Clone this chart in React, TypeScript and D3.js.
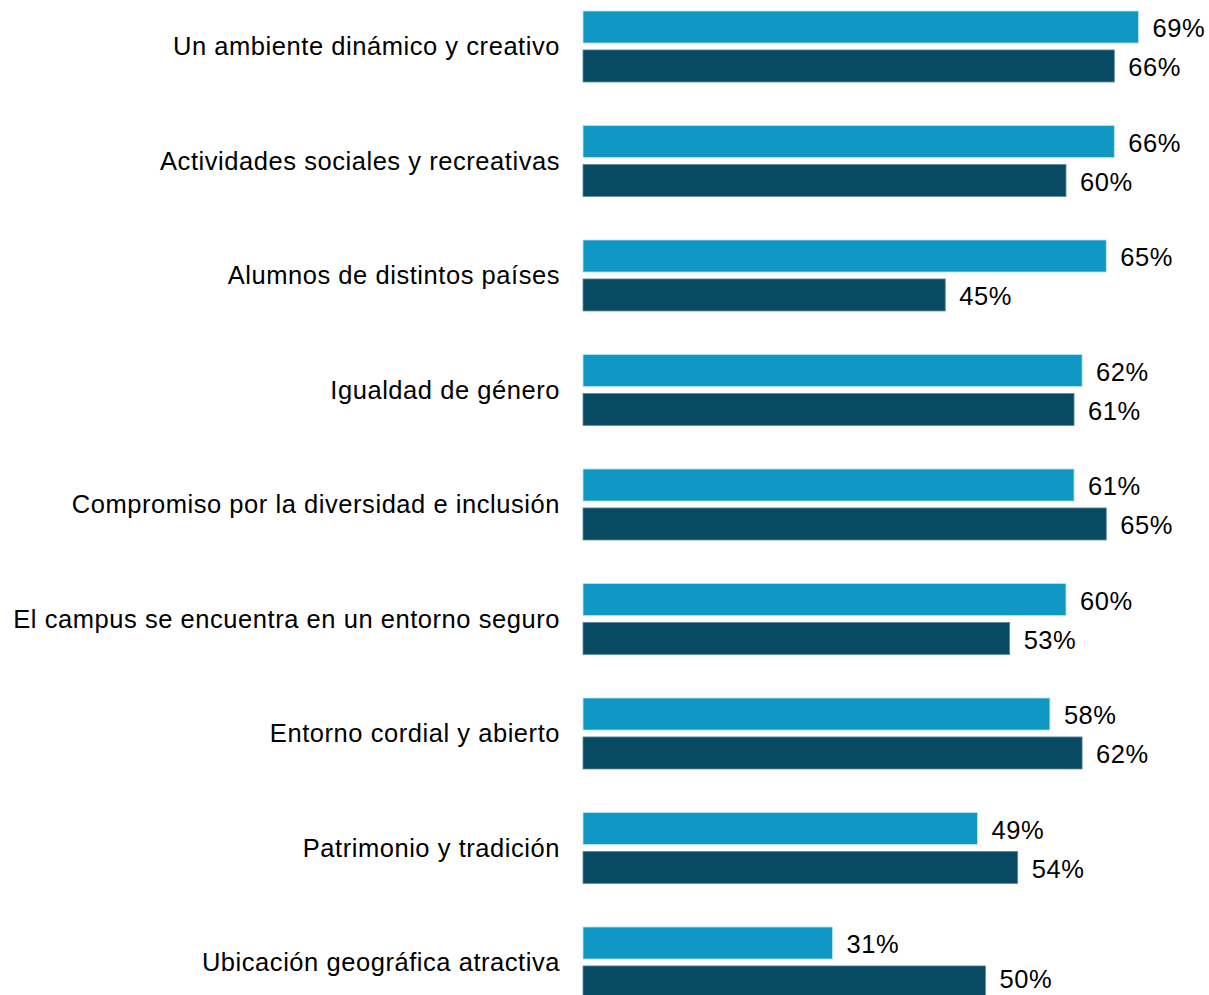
import React from "react";
import * as d3 from "d3";

const categories = [
  "Un ambiente dinámico y creativo",
  "Actividades sociales y recreativas",
  "Alumnos de distintos países",
  "Igualdad de género",
  "Compromiso por la diversidad e inclusión",
  "El campus se encuentra en un entorno seguro",
  "Entorno cordial y abierto",
  "Patrimonio y tradición",
  "Ubicación geográfica atractiva",
];
const seriesA = [69, 66, 65, 62, 61, 60, 58, 49, 31];
const seriesB = [66, 60, 45, 61, 65, 53, 62, 54, 50];
const seriesKeys = ["A", "B"];
const colors = ["#1098C4", "#084A62"];

const W = 1209;
const H = 995;

export default function App() {
  const y = d3
    .scaleBand<string>()
    .domain(categories)
    .range([11, 11 + 114.5 * (categories.length - 0.38)])
    .paddingInner(0.38)
    .paddingOuter(0);
  const yi = d3
    .scaleBand<string>()
    .domain(seriesKeys)
    .range([0, y.bandwidth()])
    .paddingInner(0.177)
    .paddingOuter(0);
  const x = d3.scaleLinear().domain([0, 100]).range([583, 583 + 805]);
  const series = [seriesA, seriesB];
  const font = "'Liberation Sans', Arial, sans-serif";
  const fs = 25.5;
  const ls = 0.55;

  return (
    <svg
      width={W}
      height={H}
      style={{ position: "absolute", left: 0, top: 0, display: "block", background: "#fff" }}
    >
      {categories.map((c, i) => {
        const gy = y(c)!;
        return (
          <g key={c}>
            <text
              x={560}
              y={gy + y.bandwidth() / 2}
              dy="0.35em"
              textAnchor="end"
              fontFamily={font}
              fontSize={fs}
              letterSpacing={ls}
              fill="#000"
            >
              {c}
            </text>
            {seriesKeys.map((k, si) => {
              const v = series[si][i];
              const by = gy + yi(k)!;
              return (
                <g key={k}>
                  <rect
                    x={x(0)}
                    y={by}
                    width={x(v) - x(0)}
                    height={yi.bandwidth()}
                    fill={colors[si]}
                    stroke={si === 0 ? "#bfe4f0" : "#5d8da0"}
                    strokeWidth={0.8}
                  />
                  <text
                    x={x(v) + 14}
                    y={Math.min(by + yi.bandwidth() / 2 + 1.5, H - 16)}
                    dy="0.35em"
                    fontFamily={font}
                    fontSize={fs}
                    letterSpacing={ls}
                    fill="#000"
                  >
                    {v}%
                  </text>
                </g>
              );
            })}
          </g>
        );
      })}
    </svg>
  );
}
